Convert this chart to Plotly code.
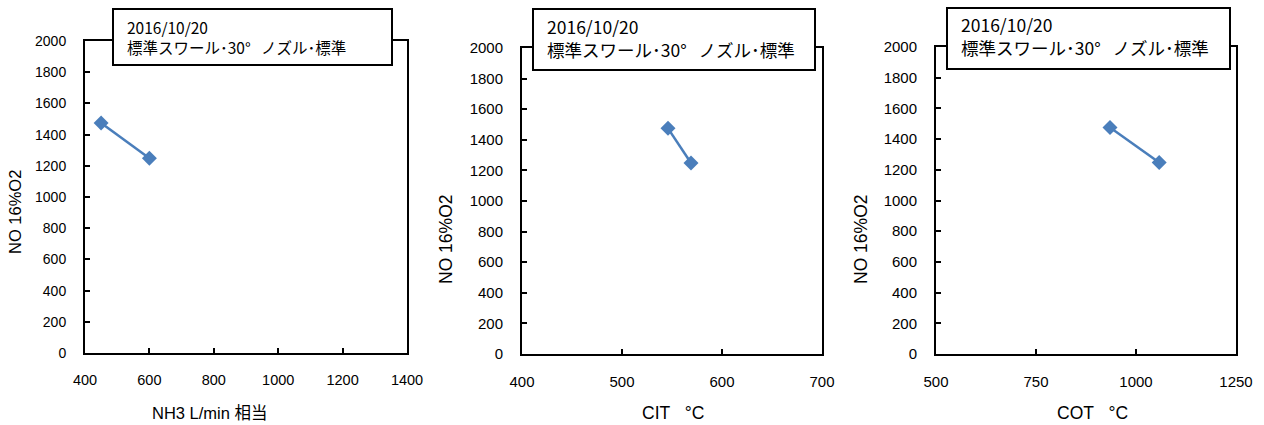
import plotly.graph_objects as go

W, H = 1264, 425

# Measured values
nh3_flow = [450, 600]          # NH3 L/min 相当
cit_temp = [546, 569]          # CIT ℃
cot_temp = [935, 1058]         # COT ℃
no_16o2 = [1475, 1248]         # NO 16%O2

NBSP = "\u00a0"
x_titles = ["NH3 L/min 相当", "CIT" + NBSP * 3 + "°C", "COT" + NBSP * 3 + "°C"]
y_title = "NO 16%O2"
box_line1 = "2016/10/20"
box_line2 = "標準スワール･30°" + NBSP * 3 + "ノズル･標準"

x_ranges = [[400, 1400], [400, 700], [500, 1250]]
x_dticks = [200, 100, 250]
y_range = [0, 2000]

# plot areas in pixels: left, right, top, bottom
areas = [(85, 407, 41, 353), (522, 822, 48, 354), (936, 1236, 47, 354)]
# annotation boxes in pixels: left, right, top, bottom
boxes = [(113, 392, 9, 65), (533, 815, 9, 70), (947, 1230, 8, 69)]
# text left edge and vertical centre of the two-line block
text_pos = [(125, 36.5), (545, 38.3), (959, 36.3)]
ytitle_pos = [(15, 212), (446, 240), (861, 240)]
xtitle_pos = [(210, 413), (673, 413), (1092, 413)]
fs_ytick = [14, 15, 15]
fs_xtick = [14.5, 15, 15]
fs_title = [16.5, 17.5, 17.5]
fs_box = [15.5, 17.5, 17.5]

BLUE = "#4A7EBB"
TICK_FONT = "Liberation Sans, Arial"


def px(x):
    return x / W


def py(y):
    return 1 - y / H


fig = go.Figure()
xs = [nh3_flow, cit_temp, cot_temp]
shapes = []
annotations = []
for i in range(3):
    sfx = "" if i == 0 else str(i + 1)
    fig.add_trace(go.Scatter(
        x=xs[i], y=no_16o2, mode="lines+markers",
        line=dict(color=BLUE, width=2.5),
        marker=dict(symbol="diamond", size=11.5, color=BLUE),
        xaxis="x" + sfx, yaxis="y" + sfx, showlegend=False,
    ))
    l, r, t, b = areas[i]
    axis_common = dict(
        showline=True, linecolor="black", linewidth=2, mirror=True,
        ticks="inside", ticklen=5, tickwidth=1.5, tickcolor="black",
        showgrid=False, zeroline=False, fixedrange=True, automargin=False,
    )
    fig.update_layout(**{
        "xaxis" + sfx: dict(
            domain=[px(l), px(r)], range=x_ranges[i], dtick=x_dticks[i],
            tick0=x_ranges[i][0], anchor="y" + sfx,
            tickfont=dict(family=TICK_FONT, size=fs_xtick[i], color="black"),
            ticklabelstandoff=13, **axis_common),
        "yaxis" + sfx: dict(
            domain=[py(b), py(t)], range=y_range, dtick=200, anchor="x" + sfx,
            tickfont=dict(family=TICK_FONT, size=fs_ytick[i], color="black"),
            ticklabelstandoff=14, **axis_common),
    })
    bl, br, bt, bb = boxes[i]
    shapes.append(dict(
        type="rect", xref="paper", yref="paper",
        x0=px(bl), x1=px(br), y0=py(bb), y1=py(bt),
        line=dict(color="black", width=2), fillcolor="white", layer="above",
    ))
    tx, ty = text_pos[i]
    annotations.append(dict(
        text=box_line1 + "<br>" + box_line2, x=px(tx), y=py(ty),
        xref="paper", yref="paper", align="left",
        xanchor="left", yanchor="middle", showarrow=False,
        font=dict(family="Noto Sans CJK JP", size=fs_box[i], color="black"),
    ))
    yx, yy = ytitle_pos[i]
    annotations.append(dict(
        text=y_title, x=px(yx), y=py(yy), xref="paper", yref="paper",
        xanchor="center", yanchor="middle", showarrow=False, textangle=-90,
        font=dict(family=TICK_FONT, size=fs_title[i], color="black"),
    ))
    xx, xy = xtitle_pos[i]
    annotations.append(dict(
        text=x_titles[i], x=px(xx), y=py(xy), xref="paper", yref="paper",
        xanchor="center", yanchor="middle", showarrow=False,
        font=dict(family="Liberation Sans, Noto Sans CJK JP", size=fs_title[i], color="black"),
    ))

fig.update_layout(
    width=W, height=H, margin=dict(l=0, r=0, t=0, b=0),
    paper_bgcolor="white", plot_bgcolor="white",
    shapes=shapes, annotations=annotations,
)

fig.write_html("out.html")
